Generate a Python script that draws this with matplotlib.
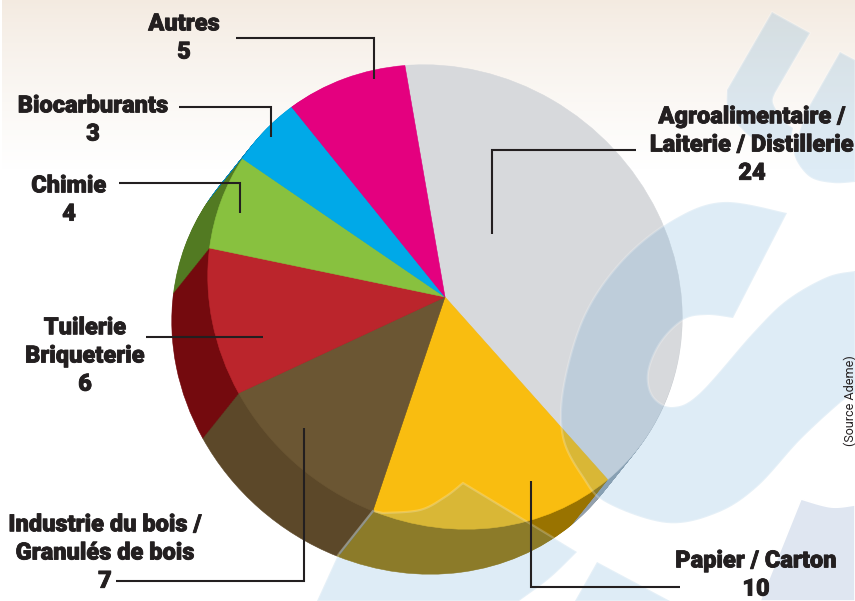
import matplotlib
matplotlib.use("Agg")
import matplotlib.pyplot as plt
import matplotlib.patheffects as pe
import numpy as np
from matplotlib.patches import Polygon
from matplotlib.transforms import Affine2D

plt.rcParams["font.family"] = ["Roboto", "Liberation Sans", "DejaVu Sans"]

values = [24, 10, 7, 6, 4, 3, 5]
top_colors = ["#d7d9dc", "#f9bd10", "#6b5633", "#bb252c", "#88c13f", "#00a9e8", "#e4007f"]
side_colors = ["#93a0ac", "#997300", "#5c4829", "#740a0e", "#527a22", "#0086bd", "#a8005e"]
labels = [
    "Agroalimentaire /\nLaiterie / Distillerie\n24",
    "Papier / Carton\n10",
    "Industrie du bois /\nGranulés de bois\n7",
    "Tuilerie\nBriqueterie\n6",
    "Chimie\n4",
    "Biocarburants\n3",
    "Autres\n5",
]
label_pos = [(752, 145), (756, 575), (105, 553), (85, 356), (69, 200), (93, 120), (184, 38)]

# leader lines, in picture pixels
leaders = [
    [(636, 150), (492, 150), (492, 234)],
    [(680, 587), (531, 587), (531, 481)],
    [(116, 581), (304, 581), (304, 428)],
    [(146, 337), (263, 337)],
    [(119, 183), (240, 183), (240, 213)],
    [(179, 107), (271, 107), (271, 137)],
    [(236, 38), (374, 38), (374, 79)],
]


def curve(pts, n=12):
    # catmull-rom through the outline points
    p = np.array([pts[0]] + list(pts) + [pts[-1]], dtype=float)
    out = []
    for i in range(1, len(p) - 2):
        for t in np.linspace(0, 1, n, endpoint=False):
            out.append(0.5 * (2 * p[i] + (p[i + 1] - p[i - 1]) * t
                              + (2 * p[i - 1] - 5 * p[i] + 4 * p[i + 1] - p[i + 2]) * t ** 2
                              + (3 * p[i] - p[i - 1] - 3 * p[i + 1] + p[i + 2]) * t ** 3))
    out.append(p[-2])
    return np.array(out)


# pale letters behind the chart
shape_c = np.vstack([
    curve([(787, 213), (723, 202), (673, 220), (623, 260), (585, 315), (564, 385), (563, 437),
           (583, 477), (607, 503), (667, 523), (717, 513), (757, 487), (800, 440), (840, 403), (855, 393)]),
    curve([(855, 271), (827, 277), (787, 300), (753, 333), (700, 393), (673, 407), (653, 397),
           (648, 373), (660, 343), (683, 320), (707, 315), (733, 318)]),
])
shape_v = np.vstack([
    [(317, 601), (338, 555), (373, 511)],
    curve([(383, 513), (420, 510), (445, 497), (463, 483)]),
    [(577, 552)],
    curve([(577, 552), (550, 578), (519, 601)]),
])
shape_w = np.array([(597, 562), (670, 601), (575, 601)])
shape_u1 = np.vstack([
    [(772, 12), (810, 33)],
    curve([(775, 93), (773, 103), (783, 120), (793, 128)]),
    curve([(790, 143), (757, 140), (740, 127), (728, 110), (727, 90)]),
])
shape_u2 = np.vstack([
    [(840, 52), (855, 60), (855, 182)],
    curve([(855, 182), (833, 183), (810, 177), (795, 157), (797, 140), (807, 110)]),
])
shape_low = np.vstack([
    [(760, 601), (855, 601)],
    curve([(855, 505), (831, 507), (801, 499)]),
])

fig = plt.figure(figsize=(8.55, 6.01), dpi=100)
ax = fig.add_axes([0, 0, 1, 1])

# cream fade at the top
fade = np.ones((170, 1, 3))
ramp = np.linspace(0, 1, 170) ** 0.8
fade[:, 0, 0] = (243 + 12 * ramp) / 255
fade[:, 0, 1] = (234 + 21 * ramp) / 255
fade[:, 0, 2] = (224 + 31 * ramp) / 255
ax.imshow(fade, extent=(2, 855, 170, 0), aspect="auto", zorder=0)

center = np.array([445.0, 297.0])
shift = np.array([-36.0, 45.0])


def slab(offset, colors):
    wedges, _ = ax.pie(values, colors=colors, startangle=97.2, counterclock=False,
                       wedgeprops=dict(zorder=2))
    cx, cy = center + offset
    tr = Affine2D(np.array([[237.0, -10.5, cx], [10.5, -232.0, cy], [0, 0, 1]]))
    for w in wedges:
        w.set_transform(tr + ax.transData)
        w.set_edgecolor(w.get_facecolor())
        w.set_linewidth(0.4)


for t in np.linspace(1, 0.02, 58):
    slab(shift * t, side_colors)
slab(np.zeros(2), top_colors)

ax.plot([373, 340], [511, 553], color="#77705a", lw=1.6, zorder=2.5)

for s in [shape_c, shape_v, shape_w, shape_u1, shape_u2]:
    ax.add_patch(Polygon(s, closed=True, facecolor=(90 / 255, 160 / 255, 210 / 255, 0.2),
                         edgecolor=(1, 1, 1, 0.22), lw=1.6, zorder=3))
ax.add_patch(Polygon(shape_low, closed=True, facecolor="#dfe6f1", edgecolor="white", lw=1.2, zorder=3))

for pts in leaders:
    xs, ys = zip(*pts)
    ax.plot(xs, ys, color="#231f20", lw=1.5, solid_joinstyle="miter", solid_capstyle="butt", zorder=4)

for txt, (x, y) in zip(labels, label_pos):
    t = ax.text(x, y, txt, ha="center", va="center", ma="center", fontsize=17, fontweight=900,
                color="#231f20", linespacing=1.29, zorder=5)
    t.set_path_effects([pe.withStroke(linewidth=0.6, foreground="#231f20")])

ax.text(850, 401, "(Source Ademe)", rotation=90, ha="center", va="center", fontsize=9,
        color="#231f20", zorder=5)

ax.set_aspect("auto")
ax.set_xlim(0, 855)
ax.set_ylim(601, 0)
ax.axis("off")
fig.savefig("out.png", dpi=100, facecolor="white")
